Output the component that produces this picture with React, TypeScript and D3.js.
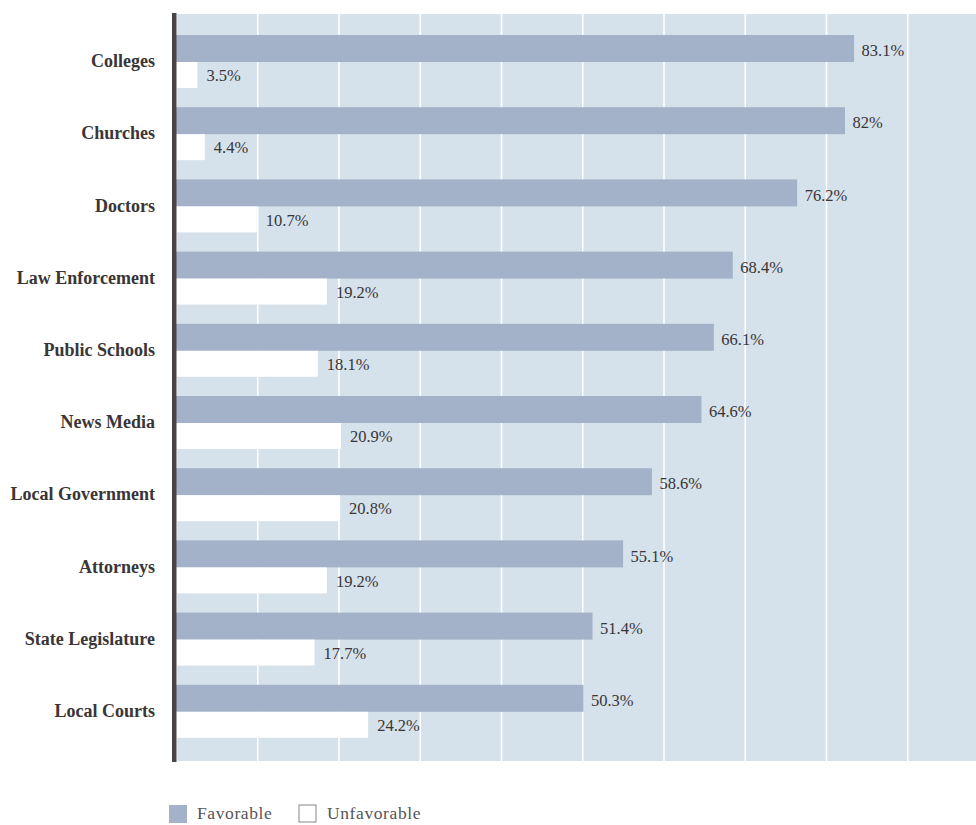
import React from "react";
import * as d3 from "d3";

const categories = [
  "Colleges",
  "Churches",
  "Doctors",
  "Law Enforcement",
  "Public Schools",
  "News Media",
  "Local Government",
  "Attorneys",
  "State Legislature",
  "Local Courts",
];
const favorable = [83.1, 82, 76.2, 68.4, 66.1, 64.6, 58.6, 55.1, 51.4, 50.3];
const unfavorable = [3.5, 4.4, 10.7, 19.2, 18.1, 20.9, 20.8, 19.2, 17.7, 24.2];
const favorableLabels = ["83.1%", "82%", "76.2%", "68.4%", "66.1%", "64.6%", "58.6%", "55.1%", "51.4%", "50.3%"];
const unfavorableLabels = ["3.5%", "4.4%", "10.7%", "19.2%", "18.1%", "20.9%", "20.8%", "19.2%", "17.7%", "24.2%"];
const gridTicks = [10, 20, 30, 40, 50, 60, 70, 80, 90];
const legendItems = ["Favorable", "Unfavorable"];

const W = 976;
const H = 825;
const BG = "#d5e1eb";
const BAR = "#a3b2c9";
const AXIS = "#4a4446";
const TEXT = "#3a3536";
const FONT = "'Liberation Serif', 'DejaVu Serif', serif";

export default function App() {
  // value scale for bars (bars start behind the axis line)
  const x = d3.scaleLinear().domain([0, 100]).range([168.5, 993.5]);
  // decorative grid scale
  const xg = d3.scaleLinear().domain([0, 100]).range([176.5, 989]);
  const y = d3.scaleBand<string>().domain(categories).range([35, 757]).paddingInner(0).paddingOuter(0);
  const favH = 27;
  const unfH = 26;

  return (
    <svg
      width={W}
      height={H}
      style={{ position: "absolute", left: 0, top: 0, background: "#fff" }}
      fontFamily={FONT}
    >
      <defs>
        <clipPath id="plotClip">
          <rect x={172} y={0} width={W - 172} height={H} />
        </clipPath>
      </defs>
      <rect x={177} y={14} width={W - 177} height={747} fill={BG} />
      {gridTicks.map((t) => (
        <line key={t} x1={xg(t)} x2={xg(t)} y1={14} y2={761} stroke="#ffffff" strokeWidth={1.6} />
      ))}
      <g clipPath="url(#plotClip)">
        {categories.map((c, i) => {
          const y0 = y(c) as number;
          return (
            <g key={c}>
              <rect x={x(0)} y={y0} width={x(favorable[i]) - x(0)} height={favH} fill={BAR} />
              <rect x={x(0)} y={y0 + favH} width={x(unfavorable[i]) - x(0)} height={unfH} fill="#ffffff" />
            </g>
          );
        })}
      </g>
      {categories.map((c, i) => {
        const y0 = y(c) as number;
        return (
          <g key={c}>
            <text
              x={x(favorable[i]) + 7.5}
              y={y0 + favH / 2 + 4}
              dominantBaseline="middle"
              fontSize={16.5}
              fontFamily={FONT}
              fill={TEXT}
            >
              {favorableLabels[i]}
            </text>
            <text
              x={x(unfavorable[i]) + 9}
              y={y0 + favH + unfH / 2 + 2.5}
              dominantBaseline="middle"
              fontSize={16.5}
              fontFamily={FONT}
              fill={TEXT}
            >
              {unfavorableLabels[i]}
            </text>
            <text
              x={155}
              y={y0 + favH + 1}
              textAnchor="end"
              dominantBaseline="middle"
              fontSize={18}
              fontWeight="bold"
              fontFamily={FONT}
              fill={TEXT}
            >
              {c}
            </text>
          </g>
        );
      })}
      <rect x={172} y={13} width={4.5} height={749} fill={AXIS} />
      {legendItems.map((l, i) => {
        const lx = i === 0 ? 169 : 299;
        return (
          <g key={l}>
            <rect
              x={lx}
              y={805}
              width={i === 0 ? 18 : 17}
              height={i === 0 ? 18 : 17}
              fill={i === 0 ? BAR : "#ffffff"}
              stroke={i === 0 ? "none" : "#666"}
              strokeWidth={0.8}
            />
            <text
              x={lx + 28}
              y={815}
              dominantBaseline="middle"
              fontSize={17.5}
              fontFamily={FONT}
              fill="#555"
              letterSpacing={0.6}
            >
              {l}
            </text>
          </g>
        );
      })}
    </svg>
  );
}
